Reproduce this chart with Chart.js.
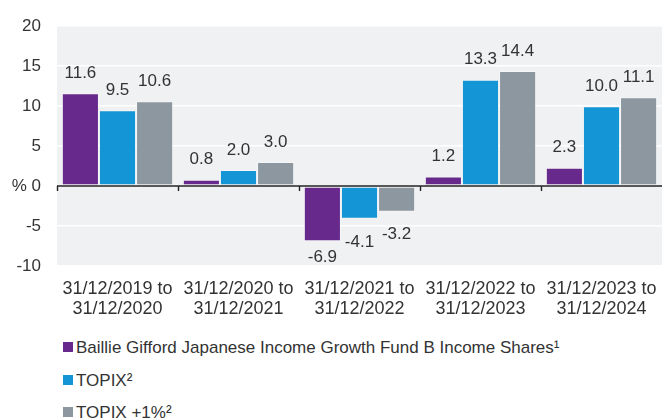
<!DOCTYPE html>
<html>
<head>
<meta charset="utf-8">
<script src="https://cdn.jsdelivr.net/npm/chart.js@4.4.1/dist/chart.umd.min.js"></script>
<style>
  html, body { margin: 0; padding: 0; background: #fff; }
  body { width: 662px; height: 418px; overflow: hidden; font-family: "Liberation Sans", Arial, sans-serif; }
  #wrap { position: relative; width: 662px; height: 330px; }
  #legend { margin: 0; padding: 2px 0 0 63px; list-style: none; }
  #legend li { display: flex; align-items: center; height: 32.5px; font-size: 17px; color: #333; white-space: nowrap; }
  #legend span.box { display: inline-block; width: 10px; height: 10px; margin-right: 3px; position: relative; top: -1px; }
</style>
</head>
<body>
<div id="wrap"><canvas id="chart"></canvas></div>
<ul id="legend"></ul>
<script>
const periods = [
  ["31/12/2019 to", "31/12/2020"],
  ["31/12/2020 to", "31/12/2021"],
  ["31/12/2021 to", "31/12/2022"],
  ["31/12/2022 to", "31/12/2023"],
  ["31/12/2023 to", "31/12/2024"]
];
const fund = [11.6, 0.8, -6.9, 1.2, 2.3];
const topix = [9.5, 2.0, -4.1, 13.3, 10.0];
const topixPlus = [10.6, 3.0, -3.2, 14.4, 11.1];
const seriesNames = [
  "Baillie Gifford Japanese Income Growth Fund B Income Shares\u00b9",
  "TOPIX\u00b2",
  "TOPIX +1%\u00b2"
];
const colors = ["#672a8c", "#1496d6", "#8c979f"];

const textColor = "#333";
const family = "'Liberation Sans', Arial, sans-serif";

// grey plot background
const bgPlugin = {
  id: "bg",
  beforeDraw(chart) {
    const a = chart.chartArea;
    const ctx = chart.ctx;
    ctx.save();
    ctx.fillStyle = "#f0f1f3";
    ctx.fillRect(a.left, a.top, a.right - a.left, a.bottom - a.top);
    ctx.restore();
  }
};

// zero line with short ticks between the groups
const zeroPlugin = {
  id: "zero",
  afterDatasetsDraw(chart) {
    const ctx = chart.ctx;
    const x = chart.scales.x;
    const y0 = chart.scales.y.getPixelForValue(0);
    const step = (x.right - x.left) / periods.length;
    ctx.save();
    ctx.strokeStyle = "#222";
    ctx.lineWidth = 1.4;
    ctx.beginPath();
    ctx.moveTo(x.left, y0);
    ctx.lineTo(x.right, y0);
    for (let i = 0; i < periods.length; i++) {
      const px = Math.round(x.getPixelForValue(i) - step / 2) + 0.5;
      ctx.moveTo(px, y0);
      ctx.lineTo(px, y0 + 5);
    }
    ctx.stroke();
    ctx.restore();
  }
};

// value labels above / below bars
const labelPlugin = {
  id: "vals",
  afterDatasetsDraw(chart) {
    const ctx = chart.ctx;
    const area = chart.chartArea;
    ctx.save();
    ctx.font = "17px " + family;
    ctx.fillStyle = textColor;
    ctx.textAlign = "center";
    ctx.textBaseline = "middle";
    chart.data.datasets.forEach((ds, di) => {
      const meta = chart.getDatasetMeta(di);
      meta.data.forEach((el, i) => {
        const v = ds.data[i];
        let y;
        if (v >= 0) {
          y = el.y - 20;
        } else {
          y = Math.min(el.y + 23, area.bottom - 9);
        }
        ctx.fillText(v.toFixed(1), el.x, y);
      });
    });
    ctx.restore();
  }
};

const chart = new Chart(document.getElementById("chart"), {
  type: "bar",
  data: {
    labels: periods,
    datasets: [fund, topix, topixPlus].map((d, i) => ({
      label: seriesNames[i],
      data: d,
      backgroundColor: colors[i],
      borderColor: "rgba(255,255,255,0.35)",
      borderWidth: 1,
      borderSkipped: false
    }))
  },
  options: {
    responsive: true,
    maintainAspectRatio: false,
    animation: false,
    devicePixelRatio: 1,
    layout: { padding: { top: 24, right: 0, left: 0, bottom: 0 } },
    plugins: {
      legend: { display: false },
      tooltip: { enabled: false }
    },
    categoryPercentage: 0.92,
    barPercentage: 1.0,
    scales: {
      x: {
        border: { display: false },
        grid: { display: false, drawTicks: false },
        ticks: {
          color: textColor,
          font: { family: family, size: 18, lineHeight: 1.111 },
          padding: 13,
          maxRotation: 0,
          autoSkip: false
        },
        afterFit(scale) {
          scale.height = 64;
          scale.paddingLeft = 0;
          scale.paddingRight = 0;
        }
      },
      y: {
        min: -10,
        max: 20,
        border: { display: false },
        grid: {
          color: "#ffffff",
          lineWidth: 1.5,
          drawTicks: false
        },
        ticks: {
          stepSize: 5,
          color: textColor,
          font: { family: family, size: 17 },
          padding: 16,
          callback: function(value) {
            return value === 0 ? "% 0" : value;
          }
        },
        afterFit(scale) { scale.width = 57; }
      }
    }
  },
  plugins: [bgPlugin, zeroPlugin, labelPlugin]
});

// legend, one series per line
const legendEl = document.getElementById("legend");
seriesNames.forEach((name, i) => {
  const li = document.createElement("li");
  const box = document.createElement("span");
  box.className = "box";
  box.style.background = colors[i];
  li.appendChild(box);
  li.appendChild(document.createTextNode(name));
  legendEl.appendChild(li);
});
</script>
</body>
</html>
